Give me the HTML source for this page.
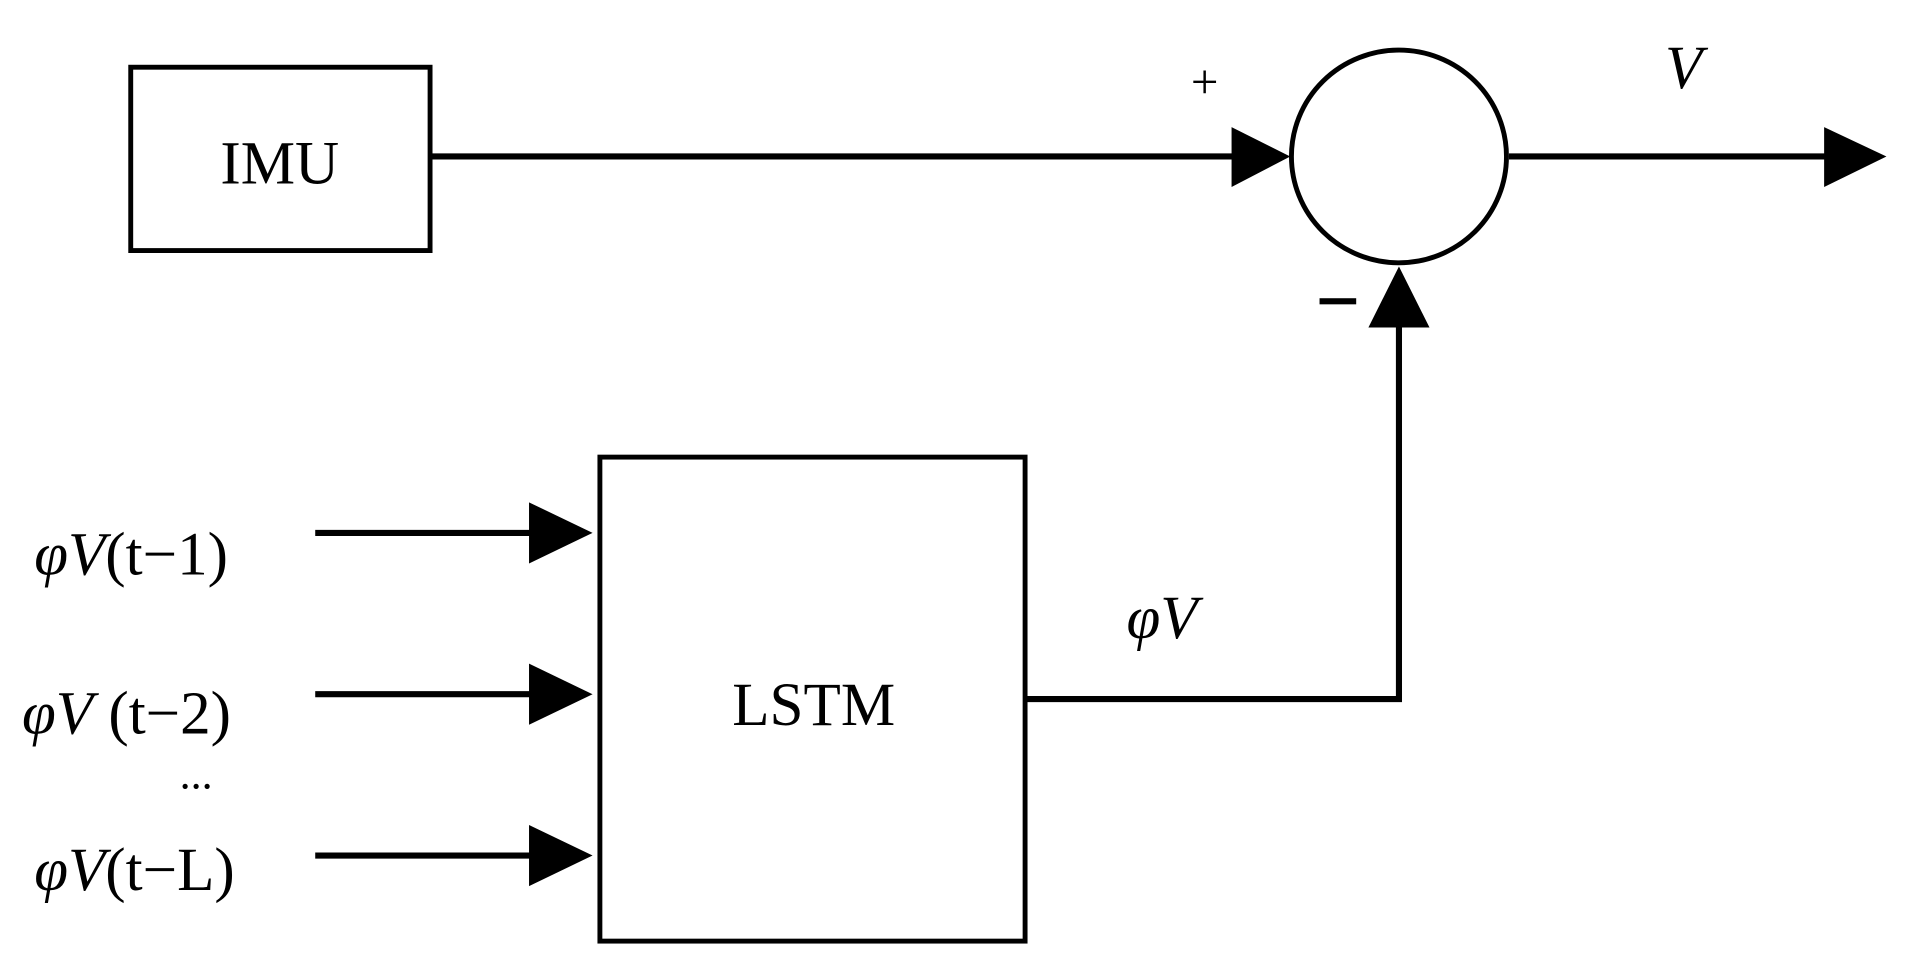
<!DOCTYPE html>
<html><head><style>html,body{margin:0;padding:0;background:#fff}svg{display:block}</style></head>
<body>
<svg width="1906" height="979" viewBox="0 0 1560 801" preserveAspectRatio="none" xmlns="http://www.w3.org/2000/svg" font-family="Liberation Serif, serif">
<rect width="1560" height="801" fill="#fff"/>
<g fill="none" stroke="#000" stroke-width="4">
<rect x="107" y="55" width="245" height="150"/>
<rect x="491" y="374" width="348" height="396"/>
<ellipse cx="1145" cy="128" rx="88" ry="87"/>
</g>
<g stroke="#000" stroke-width="5" fill="none">
<line x1="352" y1="128" x2="1012" y2="128"/>
<line x1="1235" y1="128" x2="1497" y2="128"/>
<polyline points="840,572 1145,572 1145,266"/>
<line x1="258" y1="436" x2="437" y2="436"/>
<line x1="258" y1="568" x2="437" y2="568"/>
<line x1="258" y1="700" x2="437" y2="700"/>
</g>
<g fill="#000">
<polygon points="1008,104 1056,128 1008,153"/>
<polygon points="1493,104 1544,128 1493,153"/>
<polygon points="1120,268 1145,218 1170,268"/>
<polygon points="433,411 485,436 433,461"/>
<polygon points="433,543 485,568 433,593"/>
<polygon points="433,675 485,700 433,725"/>
</g>
<g fill="#000" font-size="50">
<text x="229" y="150" text-anchor="middle">IMU</text>
<text x="666" y="593" text-anchor="middle">LSTM</text>
<text x="986" y="80" text-anchor="middle" font-size="40">+</text>
<rect x="1080" y="244" width="30" height="5"/>
<text x="1378" y="72" text-anchor="middle" font-style="italic">V</text>
<text x="922" y="522" font-style="italic">φV</text>
<text x="28" y="470"><tspan font-style="italic">φV</tspan>(t−1)</text>
<text x="18" y="600"><tspan font-style="italic">φV</tspan> (t−2)</text>
<text x="147" y="645" font-size="36">...</text>
<text x="28" y="728"><tspan font-style="italic">φV</tspan>(t−L)</text>
</g>
</svg>
</body></html>
